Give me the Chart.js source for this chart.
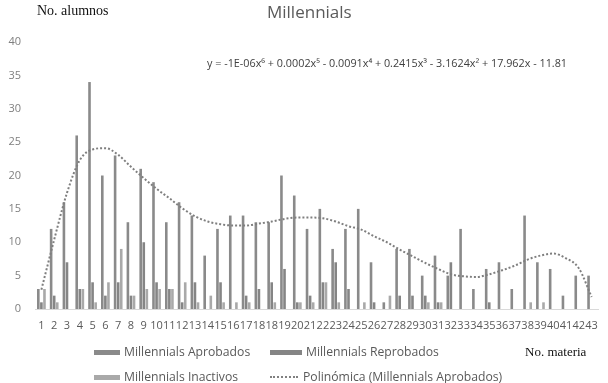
<!DOCTYPE html>
<html>
<head>
<meta charset="utf-8">
<script src="https://cdn.jsdelivr.net/npm/chart.js@4/dist/chart.umd.min.js"></script>
<style>
    html, body { margin: 0; padding: 0; background: #fff; overflow: hidden; }
    #wrap { position: relative; width: 608px; height: 383px; }
    .txt { position: absolute; white-space: nowrap; font-family: "Open Sans", "Noto Sans", sans-serif; color: #595959; }
    .serif { font-family: "Liberation Serif", "DejaVu Serif", serif; color: #111; font-size: 13px; }
    .leg { font-size: 12.2px; }
    .sw { position: absolute; height: 5px; width: 26px; }
    .dot { position: absolute; width: 28px; border-top: 2px dotted #808080; }
</style>
</head>
<body>
<div id="wrap">
    <canvas id="chart" width="608" height="383"></canvas>
    <div class="txt" style="left:267px; top:0px; font-size:17px; color:#5a5a5a;">Millennials</div>
    <div class="txt serif" style="left:37px; top:3px; font-size:14px;">No. alumnos</div>
    <div class="txt" style="left:207px; top:55px; font-size:10.8px; color:#404040;">y = -1E-06x⁶ + 0.0002x⁵ - 0.0091x⁴ + 0.2415x³ - 3.1624x² + 17.962x - 11.81</div>
    <div class="txt serif" style="left:525px; top:344px;">No. materia</div>

    <div class="sw" style="left:94px; top:350px; background:#8a8a8a;"></div>
    <div class="txt leg" style="left:124px; top:343px;">Millennials Aprobados</div>
    <div class="sw" style="left:270px; top:350px; background:#858585; width:32px;"></div>
    <div class="txt leg" style="left:306px; top:343px;">Millennials Reprobados</div>
    <div class="sw" style="left:94px; top:375px; background:#a9a9a9;"></div>
    <div class="txt leg" style="left:124px; top:368px;">Millennials Inactivos</div>
    <div class="dot" style="left:270px; top:376px;"></div>
    <div class="txt leg" style="left:303px; top:368px;">Polinómica (Millennials Aprobados)</div>
</div>
<script>
const materias = [
    "1", "2", "3", "4", "5", "6", "7", "8", "9", "10", "11", "12", "13", "14", "15",
    "16", "17", "18", "18", "19", "20", "21", "22", "23", "24", "25", "26", "27", "28",
    "29", "30", "31", "32", "33", "34", "35", "36", "37", "38", "39", "40", "41", "42", "43",
];
const aprobados = [
    3, 12, 16, 26, 34, 20, 23, 13, 21, 19, 13, 16, 14, 8, 12, 14, 14, 13, 13, 20, 17, 12,
    15, 9, 12, 15, 7, 1, 9, 9, 5, 8, 5, 12, 3, 6, 7, 3, 14, 7, 6, 2, 5, 5,
];
const reprobados = [
    1, 2, 7, 3, 4, 2, 4, 2, 10, 4, 3, 1, 4, 0, 4, 0, 2, 3, 4, 6, 1, 2,
    4, 7, 3, 0, 1, 0, 2, 2, 2, 1, 7, 0, 0, 1, 0, 0, 0, 0, 0, 0, 0, 0,
];
const inactivos = [
    3, 1, 0, 3, 1, 4, 9, 2, 3, 3, 3, 4, 1, 2, 1, 1, 1, 0, 1, 0, 1, 1,
    4, 1, 0, 1, 0, 2, 0, 0, 1, 1, 0, 0, 0, 0, 0, 0, 1, 1, 0, 0, 0, 0,
];
// trend line
const tendencia = [
    2.9, 10.4, 17.4, 22.3, 23.9, 24.1, 23.1, 21.3, 19.6, 18.0, 16.6, 15.1, 13.9, 13.1, 12.7,
    12.5, 12.5, 12.8, 13.1, 13.5, 13.7, 13.7, 13.6, 13.1, 12.4, 11.9, 10.9, 10.0, 8.9, 7.9,
    6.9, 6.0, 5.2, 4.9, 4.8, 5.2, 5.8, 6.5, 7.4, 8.0, 8.3, 7.6, 6.1, 1.8,
];
const yTicks = [0, 5, 10, 15, 20, 25, 30, 35, 40];

const font = { family: "'Open Sans', 'Noto Sans', sans-serif", size: 11 };

function bar(label, data, color) {
    return {
        type: "bar",
        label,
        data,
        backgroundColor: color,
        categoryPercentage: 0.72,
        barPercentage: 0.85,
        order: 2,
    };
}

new Chart(document.getElementById("chart"), {
    data: {
        labels: materias,
        datasets: [
            bar("Millennials Aprobados", aprobados, "#8a8a8a"),
            bar("Millennials Reprobados", reprobados, "#858585"),
            bar("Millennials Inactivos", inactivos, "#a9a9a9"),
            {
                type: "line",
                label: "Polinómica (Millennials Aprobados)",
                data: tendencia,
                borderColor: "#7f7f7f",
                borderWidth: 2,
                borderDash: [2, 2],
                pointRadius: 0,
                cubicInterpolationMode: "monotone",
                fill: false,
                order: 1,
            },
        ],
    },
    options: {
        responsive: false,
        animation: false,
        layout: { padding: { top: 42, right: 8, left: 0, bottom: 0 } },
        plugins: { legend: { display: false }, tooltip: { enabled: false } },
        scales: {
            x: {
                grid: { display: false, drawTicks: false },
                border: { color: "#d9d9d9" },
                ticks: {
                    color: "#595959",
                    font,
                    padding: 10,
                    autoSkip: false,
                    maxRotation: 0,
                    minRotation: 0,
                },
                afterFit(scale) {
                    scale.height = 74;
                },
            },
            y: {
                min: 0,
                max: 40,
                afterBuildTicks(scale) {
                    scale.ticks = yTicks.map((v) => ({ value: v }));
                },
                grid: { display: false, drawTicks: false },
                border: { display: false },
                ticks: { color: "#7f7f7f", font, padding: 14 },
                afterFit(scale) {
                    scale.width = 35;
                },
            },
        },
    },
});
</script>
</body>
</html>
